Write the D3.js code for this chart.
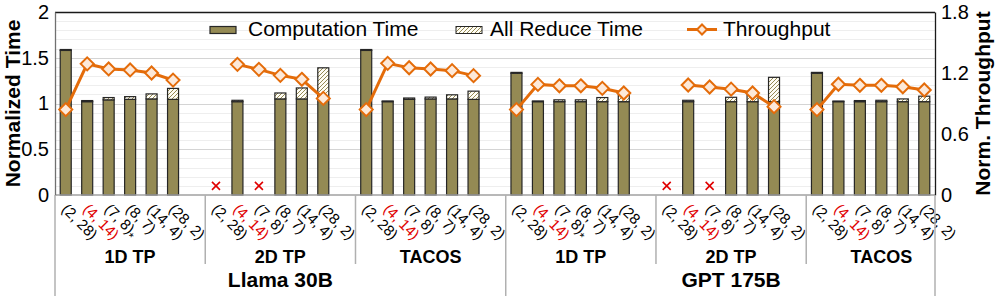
<!DOCTYPE html>
<html>
<head>
<meta charset="utf-8">
<script src="https://cdn.jsdelivr.net/npm/d3@7"></script>
<style>
body { margin: 0; background: #fff; }
svg { display: block; font-family: "Liberation Sans", Arial, sans-serif; }
</style>
</head>
<body>
<svg id="chart" width="997" height="296"></svg>
<script>
var models = ["Llama 30B", "GPT 175B"];
var methods = ["1D TP", "2D TP", "TACOS"];
var configs = ["(2, 28)", "(4, 14)", "(7, 8)", "(8, 7)", "(14, 4)", "(28, 2)"];

// rows: Llama 1D, Llama 2D, Llama TACOS, GPT 1D, GPT 2D, GPT TACOS (null = did not run)
var computeTime = [
    [1.58, 1.02, 1.04, 1.045, 1.05, 1.045],
    [null, 1.02, null, 1.05, 1.05, 1.05],
    [1.58, 1.02, 1.045, 1.05, 1.05, 1.045],
    [1.33, 1.02, 1.02, 1.02, 1.02, 1.02],
    [null, 1.02, null, 1.02, 1.02, 1.02],
    [1.33, 1.02, 1.02, 1.02, 1.02, 1.02]
];
var allReduceTime = [
    [0.01, 0.012, 0.025, 0.03, 0.055, 0.12],
    [null, 0.015, null, 0.065, 0.12, 0.34],
    [0.01, 0.008, 0.015, 0.02, 0.045, 0.09],
    [0.01, 0.008, 0.02, 0.02, 0.045, 0.075],
    [null, 0.015, null, 0.048, 0.09, 0.266],
    [0.01, 0.007, 0.012, 0.015, 0.03, 0.06]
];
var throughput = [
    [0.84, 1.29, 1.24, 1.23, 1.2, 1.13],
    [null, 1.285, 1.236, 1.177, 1.138, 0.95],
    [0.84, 1.295, 1.252, 1.239, 1.223, 1.174],
    [0.84, 1.088, 1.074, 1.074, 1.049, 1.003],
    [null, 1.082, 1.062, 1.041, 1.003, 0.869],
    [0.84, 1.089, 1.079, 1.079, 1.065, 1.033]
];
var leftTicks = [0, 0.5, 1, 1.5, 2];
var rightTicks = [0, 0.6, 1.2, 1.8];

var olive = "#948a54",
    orange = "#e46c0a";

var svg = d3.select("#chart"),
    margin = {top: 12, right: 62, bottom: 101, left: 55},
    width = +svg.attr("width") - margin.left - margin.right,
    height = +svg.attr("height") - margin.top - margin.bottom;

var defs = svg.append("defs");
var pat = defs.append("pattern")
    .attr("id", "hatch")
    .attr("patternUnits", "userSpaceOnUse")
    .attr("width", 4)
    .attr("height", 4);
pat.append("rect").attr("width", 4).attr("height", 4).attr("fill", "#fffdf5");
pat.append("path")
    .attr("d", "M-1,1 l2,-2 M0,4 l4,-4 M3,5 l2,-2")
    .attr("stroke", olive)
    .attr("stroke-width", 1);

// slot keys: 6 configs per group plus an empty slot between groups
var groups = [];
models.forEach(function (m, mi) {
    methods.forEach(function (t, ti) {
        groups.push({model: m, method: t, index: mi * 3 + ti});
    });
});
var slots = [];
groups.forEach(function (g, gi) {
    configs.forEach(function (c, ci) { slots.push(gi + "-" + ci); });
    if (gi < groups.length - 1) slots.push(gi + "-gap");
});

var x = d3.scaleBand().domain(slots).range([0, width]);
var step = x.step();
var yL = d3.scaleLinear().domain([0, 2]).range([height, 0]);
var yR = d3.scaleLinear().domain([0, 1.8]).range([height, 0]);

var g = svg.append("g")
    .attr("transform", "translate(" + margin.left + "," + margin.top + ")");

// grid
g.append("g")
    .selectAll("line")
    .data(d3.range(1, 20).map(function (i) { return i / 10; }))
    .enter()
    .append("line")
    .attr("x1", 0)
    .attr("x2", width)
    .attr("y1", function (d) { return Math.round(yL(d)) + 0.5; })
    .attr("y2", function (d) { return Math.round(yL(d)) + 0.5; })
    .attr("stroke", function (d, i) { return (i + 1) % 5 == 0 ? "#d4d4d4" : "#eeeeee"; })
    .attr("stroke-width", 1);

// bars
var cells = [];
groups.forEach(function (gr, gi) {
    configs.forEach(function (c, ci) {
        cells.push({
            key: gi + "-" + ci,
            comp: computeTime[gi][ci],
            ar: allReduceTime[gi][ci]
        });
    });
});
var bw = 11;

var bars = g.append("g")
    .selectAll("g")
    .data(cells.filter(function (d) { return d.comp != null; }))
    .enter()
    .append("g");

bars.append("rect")
    .attr("x", function (d) { return x(d.key) + (step - bw) / 2; })
    .attr("y", function (d) { return yL(d.comp); })
    .attr("width", bw)
    .attr("height", function (d) { return yL(0) - yL(d.comp); })
    .attr("fill", olive)
    .attr("stroke", "#262626")
    .attr("stroke-width", 1.2);

bars.append("rect")
    .attr("x", function (d) { return x(d.key) + (step - bw) / 2; })
    .attr("y", function (d) { return yL(d.comp + d.ar); })
    .attr("width", bw)
    .attr("height", function (d) { return yL(d.comp) - yL(d.comp + d.ar); })
    .attr("fill", "url(#hatch)")
    .attr("stroke", "#262626")
    .attr("stroke-width", 1.2);

// failed configs
g.append("g")
    .selectAll("path")
    .data(cells.filter(function (d) { return d.comp == null; }))
    .enter()
    .append("path")
    .attr("transform", function (d) {
        return "translate(" + (x(d.key) + step / 2) + "," + yL(0.1) + ")";
    })
    .attr("d", "M-4,-4L4,4M-4,4L4,-4")
    .attr("stroke", "#e00000")
    .attr("stroke-width", 1.6)
    .attr("fill", "none");

// throughput lines, one per group
var line = d3.line()
    .defined(function (d) { return d.v != null; })
    .x(function (d) { return x(d.key) + step / 2; })
    .y(function (d) { return yR(d.v); });

var tp = groups.map(function (gr, gi) {
    return configs.map(function (c, ci) {
        return {key: gi + "-" + ci, v: throughput[gi][ci]};
    });
});

g.append("g")
    .selectAll("path")
    .data(tp)
    .enter()
    .append("path")
    .attr("d", line)
    .attr("fill", "none")
    .attr("stroke", orange)
    .attr("stroke-width", 3);

var diamond = "M0,-6.5L6.5,0L0,6.5L-6.5,0Z";
g.append("g")
    .selectAll("path")
    .data(tp.flat().filter(function (d) { return d.v != null; }))
    .enter()
    .append("path")
    .attr("transform", function (d) {
        return "translate(" + (x(d.key) + step / 2) + "," + yR(d.v) + ")";
    })
    .attr("d", diamond)
    .attr("fill", "#fde9d9")
    .attr("stroke", orange)
    .attr("stroke-width", 2);

// frame
g.append("line").attr("x1", 0).attr("x2", width).attr("y1", 0.5).attr("y2", 0.5)
    .attr("stroke", "#1a1a1a").attr("stroke-width", 1.3);
g.append("line").attr("x1", 0).attr("x2", width).attr("y1", height).attr("y2", height)
    .attr("stroke", "#a0a0a0").attr("stroke-width", 1.5);

var leftAxis = g.append("g")
    .call(d3.axisLeft(yL).tickValues(leftTicks).tickFormat(d3.format("")).tickSize(0).tickPadding(6));
leftAxis.select(".domain").attr("stroke", "#707070").attr("stroke-width", 1.3);
leftAxis.selectAll("text").attr("font-size", 20).attr("fill", "#000").attr("font-family", "Liberation Sans, Arial");

var rightAxis = g.append("g")
    .attr("transform", "translate(" + width + ",0)")
    .call(d3.axisRight(yR).tickValues(rightTicks).tickFormat(d3.format("")).tickSize(0).tickPadding(6));
rightAxis.select(".domain").attr("stroke", "#1a1a1a").attr("stroke-width", 1.3);
rightAxis.selectAll("text").attr("font-size", 20).attr("fill", "#000").attr("font-family", "Liberation Sans, Arial");

// category labels
var labels = g.append("g")
    .selectAll("text")
    .data(cells)
    .enter()
    .append("text")
    .attr("transform", function (d) {
        return "translate(" + (x(d.key) + step / 2 - 5) + "," + (height + 15) + ") rotate(45)";
    })
    .attr("font-size", 15)
    .attr("fill", function (d) { return d.key.split("-")[1] == "1" ? "#e00000" : "#000"; })
    .text(function (d) { return configs[+d.key.split("-")[1]]; });

labels.filter(function (d) {
        var p = d.key.split("-");
        return groups[+p[0]].method == "1D TP" && p[1] == "2";
    })
    .append("tspan")
    .attr("font-size", 12)
    .attr("dy", "0.35em")
    .text("*");

// separators under the axis
var seps = d3.range(0, groups.length + 1);
g.append("g")
    .selectAll("line")
    .data(seps)
    .enter()
    .append("line")
    .attr("x1", function (d) { return d == groups.length ? width : d * 7 * step; })
    .attr("x2", function (d) { return d == groups.length ? width : d * 7 * step; })
    .attr("y1", height)
    .attr("y2", function (d) { return d % 3 == 0 ? height + 101 : height + 69; })
    .attr("stroke", "#b0b0b0")
    .attr("stroke-width", 1.5);

g.append("g")
    .selectAll("text")
    .data(groups)
    .enter()
    .append("text")
    .attr("x", function (d) { return (d.index * 7 + 3.5) * step; })
    .attr("y", height + 68)
    .attr("text-anchor", "middle")
    .attr("font-size", 18)
    .attr("font-weight", "bold")
    .text(function (d) { return d.method; });

g.append("g")
    .selectAll("text")
    .data(models)
    .enter()
    .append("text")
    .attr("x", function (d, i) { return ((i * 3 + 1) * 7 + 3.5) * step; })
    .attr("y", height + 92)
    .attr("text-anchor", "middle")
    .attr("font-size", 21)
    .attr("font-weight", "bold")
    .text(function (d) { return d; });

// axis titles
svg.append("text")
    .attr("transform", "translate(20," + (margin.top + height / 2) + ") rotate(-90)")
    .attr("text-anchor", "middle")
    .attr("font-size", 21)
    .attr("font-weight", "bold")
    .text("Normalized Time");

svg.append("text")
    .attr("transform", "translate(990," + (margin.top + height / 2) + ") rotate(-90)")
    .attr("text-anchor", "middle")
    .attr("font-size", 21)
    .attr("font-weight", "bold")
    .text("Norm. Throughput");

// legend
var legend = svg.append("g").attr("font-size", 21);

legend.append("rect")
    .attr("x", 210).attr("y", 26.5).attr("width", 26).attr("height", 7)
    .attr("fill", olive).attr("stroke", "#262626").attr("stroke-width", 1.2);
legend.append("text").attr("x", 248).attr("y", 36).text("Computation Time");

legend.append("rect")
    .attr("x", 456).attr("y", 26.5).attr("width", 26).attr("height", 7)
    .attr("fill", "url(#hatch)").attr("stroke", "#262626").attr("stroke-width", 1);
legend.append("text").attr("x", 490).attr("y", 36).text("All Reduce Time");

legend.append("line")
    .attr("x1", 687).attr("x2", 717).attr("y1", 29.5).attr("y2", 29.5)
    .attr("stroke", orange).attr("stroke-width", 3);
legend.append("path")
    .attr("transform", "translate(702,29.5)")
    .attr("d", "M0,-5L5,0L0,5L-5,0Z")
    .attr("fill", "#fde9d9").attr("stroke", orange).attr("stroke-width", 2);
legend.append("text").attr("x", 723).attr("y", 36).text("Throughput");
</script>
</body>
</html>
